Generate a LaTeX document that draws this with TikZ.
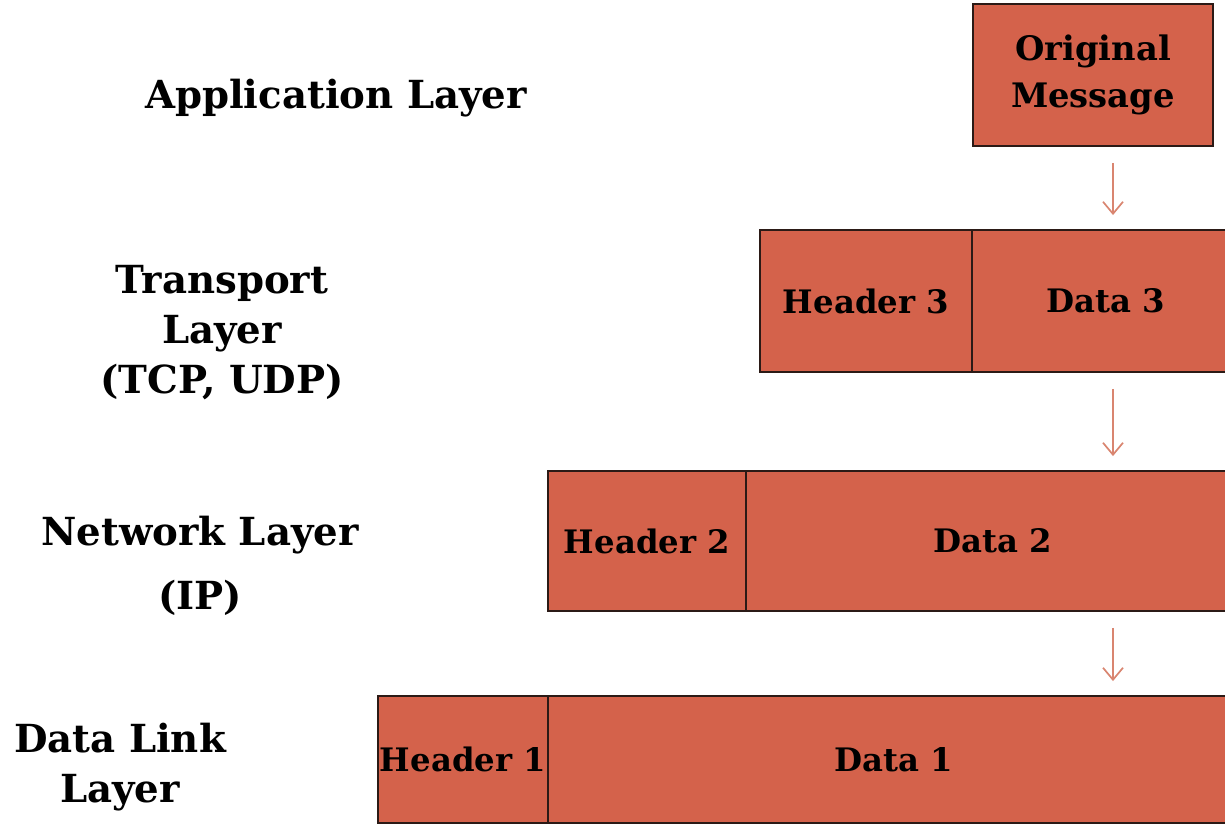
\documentclass[tikz,border=0pt]{standalone}
\usepackage{fontspec}
\setmainfont{DejaVu Serif}
\usetikzlibrary{arrows.meta}

\definecolor{boxfill}{HTML}{D4624B}
\definecolor{boxline}{HTML}{2B1A16}
\definecolor{flowline}{HTML}{D98570}

\begin{document}
\begin{tikzpicture}[x=0.025cm,y=-0.025cm,
                layer label/.style={align=center,font=\fontsize{27.5}{35.5}\selectfont\bfseries},
                pdu box/.style={draw=boxline,fill=boxfill,line width=1.3pt,inner sep=0pt,
                                minimum height=3.55cm,font=\fontsize{23}{33}\selectfont\bfseries},
                flow/.style={-{Straight Barb[length=3mm,width=5mm]},draw=flowline,line width=1.2pt,
                             shorten <=0.4cm,shorten >=0.35cm}]

            \clip (0,0) rectangle (1225,826);

            % layer names
            \node[layer label] (app) at (336,98) {Application Layer};
            \node[layer label] (trans) at (222,333) {Transport\\Layer\\(TCP, UDP)};
            \node[layer label] (net) at (200,566) {Network Layer\\[0.35cm](IP)};
            \node[layer label] (link) at (120,767) {Data Link\\Layer};

            % data units
            \node[pdu box, minimum width=6cm, align=center, font=\fontsize{24}{33}\selectfont\bfseries] (orig) at (1093,75) {Original\\Message};
            \node[pdu box, minimum width=5.3cm] (head3) at (866,301) {Header 3};
            \node[pdu box, minimum width=6.7cm] (data3) at (1106,301) {Data 3};
            \node[pdu box, minimum width=4.95cm, minimum height=3.5cm] (head2) at (647,541) {Header 2};
            \node[pdu box, minimum width=12.35cm, minimum height=3.5cm] (data2) at (993,541) {Data 2};
            \node[pdu box, minimum width=4.25cm, minimum height=3.175cm] (head1) at (463,759.5) {Header 1};
            \node[pdu box, minimum width=17.3cm, minimum height=3.175cm] (data1) at (894,759.5) {Data 1};

            % encapsulation steps
            \coordinate (col) at (1113,0);
            \draw[flow] (orig.south -| col) -- (data3.north -| col);
            \draw[flow] (data3.south -| col) -- (data2.north -| col);
            \draw[flow] (data2.south -| col) -- (data1.north -| col);

        \end{tikzpicture}
\end{document}
